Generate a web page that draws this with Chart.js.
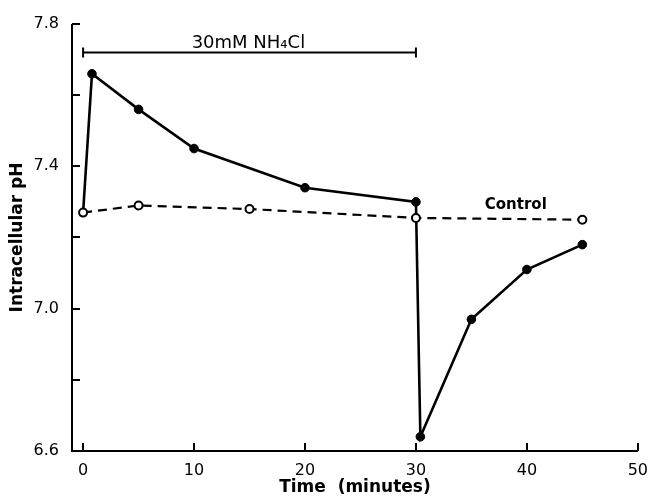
<!DOCTYPE html>
<html>
<head>
<meta charset="utf-8">
<script src="https://cdn.jsdelivr.net/npm/chart.js@4/dist/chart.umd.min.js"></script>
<style>
  html, body { margin: 0; padding: 0; background: #fff; }
  #wrap { width: 650px; height: 499px; position: relative; }
</style>
</head>
<body>
<div id="wrap"><canvas id="c" width="650" height="499"></canvas></div>
<script>
// ---- data ----
const nh4clTime = [0, 0.8, 5, 10, 20, 30, 30.4, 35, 40, 45];
const nh4clPH   = [7.27, 7.66, 7.56, 7.45, 7.34, 7.30, 6.64, 6.97, 7.11, 7.18];
const controlTime = [0, 5, 15, 30, 45];
const controlPH   = [7.27, 7.29, 7.28, 7.255, 7.25];
const xTickValues = [0, 10, 20, 30, 40, 50];
const yTickValues = [6.6, 6.8, 7.0, 7.2, 7.4, 7.6, 7.8];
const yLabelledTicks = [6.6, 7.0, 7.4, 7.8];
const treatmentLabel = '30mM NH\u2084Cl';
const treatmentStart = 0, treatmentEnd = 30;
const controlLabel = 'Control';

const FONT = '"DejaVu Sans", "Liberation Sans", sans-serif';

const nh4clData = nh4clTime.map((t, i) => ({ x: t, y: nh4clPH[i] }));
const controlData = controlTime.map((t, i) => ({ x: t, y: controlPH[i] }));

const decorPlugin = {
  id: 'decor',
  afterDraw(chart) {
    const ctx = chart.ctx;
    const xs = chart.scales.x, ys = chart.scales.y;
    ctx.save();
    ctx.strokeStyle = '#000';
    ctx.lineWidth = 2;
    ctx.lineCap = 'butt';
    ctx.setLineDash([]);
    // axis lines
    ctx.beginPath();
    ctx.moveTo(xs.left, ys.top);
    ctx.lineTo(xs.left, ys.bottom);
    ctx.lineTo(xs.right, ys.bottom);
    ctx.stroke();
    // inward ticks on y axis
    yTickValues.forEach(v => {
      const py = Math.round(ys.getPixelForValue(v));
      ctx.beginPath();
      ctx.moveTo(xs.left, py);
      ctx.lineTo(xs.left + 8, py);
      ctx.stroke();
    });
    // inward ticks on x axis
    xTickValues.forEach(v => {
      const px = Math.round(xs.getPixelForValue(v));
      ctx.beginPath();
      ctx.moveTo(px, ys.bottom);
      ctx.lineTo(px, ys.bottom - 8);
      ctx.stroke();
    });
    // treatment bar
    const by = ys.getPixelForValue(7.72);
    const bx0 = xs.getPixelForValue(treatmentStart);
    const bx1 = xs.getPixelForValue(treatmentEnd);
    ctx.beginPath();
    ctx.moveTo(bx0, by); ctx.lineTo(bx1, by);
    ctx.moveTo(bx0, by - 5); ctx.lineTo(bx0, by + 5);
    ctx.moveTo(bx1, by - 5); ctx.lineTo(bx1, by + 5);
    ctx.stroke();
    ctx.fillStyle = '#000';
    ctx.font = '18px ' + FONT;
    ctx.textAlign = 'center';
    ctx.textBaseline = 'alphabetic';
    ctx.fillText(treatmentLabel, xs.getPixelForValue(14.9), by - 4);
    // control label
    ctx.font = 'bold 15px ' + FONT;
    ctx.textBaseline = 'middle';
    ctx.fillText(controlLabel, xs.getPixelForValue(39.0), ys.getPixelForValue(7.292));
    ctx.restore();
  }
};

new Chart(document.getElementById('c'), {
  type: 'scatter',
  data: {
    datasets: [
      {
        label: 'NH4Cl',
        data: nh4clData,
        showLine: true,
        borderColor: '#000',
        borderWidth: 2.6,
        backgroundColor: '#000',
        pointBackgroundColor: '#000',
        pointBorderColor: '#000',
        pointRadius: nh4clData.map((d, i) => i === 0 ? 0 : 4.3),
        pointBorderWidth: 1,
        order: 2
      },
      {
        label: 'Control',
        data: controlData,
        showLine: true,
        borderColor: '#000',
        borderWidth: 2.2,
        borderDash: [9, 6],
        pointBackgroundColor: '#fff',
        pointBorderColor: '#000',
        pointBorderWidth: 2,
        pointRadius: 4,
        order: 1
      }
    ]
  },
  options: {
    responsive: false,
    animation: false,
    layout: { padding: { top: 24, right: 9, left: 0, bottom: 0 } },
    plugins: { legend: { display: false }, tooltip: { enabled: false } },
    scales: {
      x: {
        type: 'linear',
        min: -1, max: 50,
        afterBuildTicks: s => { s.ticks = xTickValues.map(v => ({ value: v })); },
        afterFit: s => { s.height = 48; },
        grid: { display: false },
        border: { display: false },
        ticks: { color: '#000', font: { family: FONT, size: 16 }, padding: 2, maxRotation: 0 },
        title: { display: true, text: 'Time  (minutes)', color: '#000',
                 font: { family: FONT, size: 17, weight: 'bold' }, padding: { top: 0, bottom: 1 } }
      },
      y: {
        type: 'linear',
        min: 6.6, max: 7.8,
        afterBuildTicks: s => { s.ticks = yTickValues.map(v => ({ value: v })); },
        afterFit: s => { s.width = 72; },
        grid: { display: false },
        border: { display: false },
        ticks: {
          color: '#000', font: { family: FONT, size: 16 }, padding: 5,
          callback: v => yLabelledTicks.some(t => Math.abs(t - v) < 1e-6) ? v.toFixed(1) : ''
        },
        title: { display: true, text: 'Intracellular pH', color: '#000',
                 font: { family: FONT, size: 17, weight: 'bold' }, padding: { top: 7, bottom: 0 } }
      }
    }
  },
  plugins: [decorPlugin]
});
</script>
</body>
</html>
